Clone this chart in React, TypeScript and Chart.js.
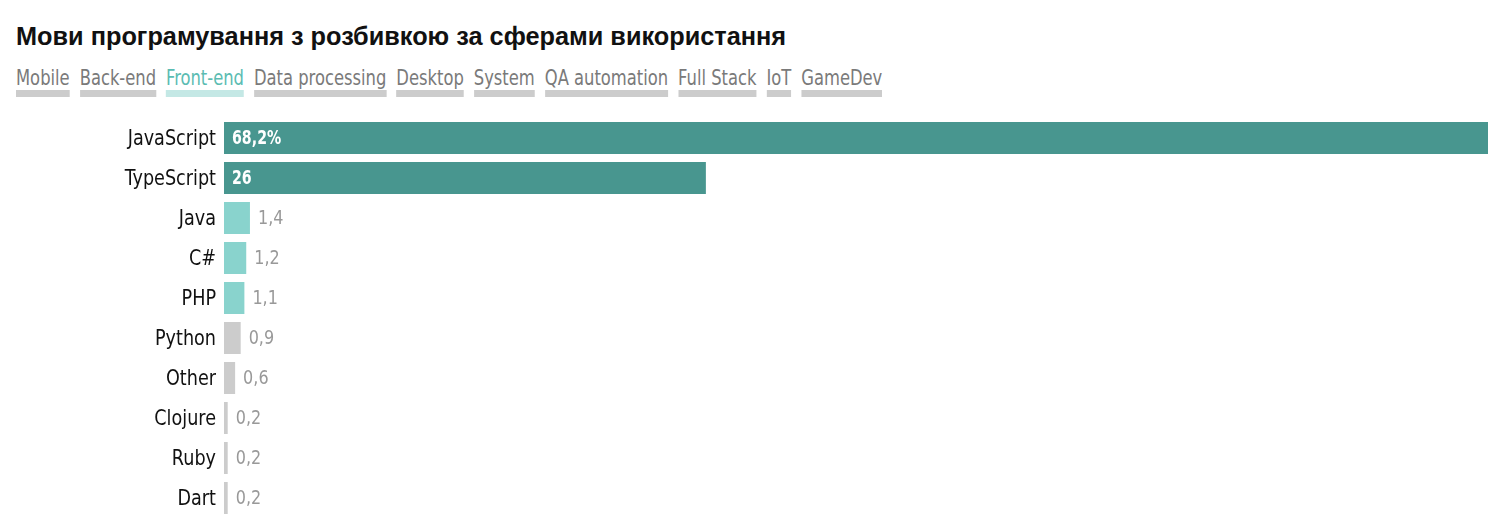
import React, { useEffect, useRef } from "react";
import { Chart, registerables } from "chart.js";

Chart.register(...registerables);

const title = "Мови програмування з розбивкою за сферами використання";
const tabs = ["Mobile", "Back-end", "Front-end", "Data processing", "Desktop", "System", "QA automation", "Full Stack", "IoT", "GameDev"];
const activeTab = "Front-end";

const categories = ["JavaScript", "TypeScript", "Java", "C#", "PHP", "Python", "Other", "Clojure", "Ruby", "Dart"];
const values = [68.2, 26, 1.4, 1.2, 1.1, 0.9, 0.6, 0.2, 0.2, 0.2];
const valueLabels = ["68,2%", "26", "1,4", "1,2", "1,1", "0,9", "0,6", "0,2", "0,2", "0,2"];
const groups = ["main", "main", "mid", "mid", "mid", "low", "low", "low", "low", "low"];

const NARROW = '"DejaVu Sans Condensed", "DejaVu Sans", sans-serif';

const colorFor: Record<string, string> = { main: "#48968f", mid: "#89d3cd", low: "#cccccc" };

function drawText(ctx: any, text: string, x: number, y: number, font: string, color: string, align: "left" | "right", sx: number) {
  ctx.save();
  ctx.font = font;
  ctx.fillStyle = color;
  ctx.textBaseline = "middle";
  ctx.textAlign = align;
  ctx.translate(x, y);
  ctx.scale(sx, 1);
  ctx.fillText(text, 0, 0);
  ctx.restore();
}

const labelPlugin = {
  id: "valueLabels",
  afterDatasetsDraw(chart: any) {
    const ctx = chart.ctx;
    const meta = chart.getDatasetMeta(0);
    const yScale = chart.scales.y;
    meta.data.forEach((bar: any, i: number) => {
      const cy = yScale.getPixelForValue(i);
      drawText(ctx, categories[i], chart.chartArea.left - 8, cy + 1, `22px ${NARROW}`, "#111111", "right", 0.89);
      if (groups[i] === "main") {
        drawText(ctx, valueLabels[i], bar.base + 8, cy + 1, `bold 19px ${NARROW}`, "#ffffff", "left", 0.83);
      } else {
        drawText(ctx, valueLabels[i], bar.x + 8, cy + 1, `20px ${NARROW}`, "#999999", "left", 0.89);
      }
    });
  },
};

export default function App() {
  const canvasRef = useRef<HTMLCanvasElement | null>(null);

  useEffect(() => {
    if (!canvasRef.current) return;
    const chart = new Chart(canvasRef.current, {
      type: "bar",
      data: {
        labels: categories,
        datasets: [
          {
            data: values,
            backgroundColor: groups.map((g) => colorFor[g]),
            barPercentage: 0.8,
            categoryPercentage: 1,
            minBarLength: 3,
          },
        ],
      },
      options: {
        indexAxis: "y",
        animation: false,
        responsive: false,
        maintainAspectRatio: false,
        layout: { padding: 0 },
        plugins: { legend: { display: false }, tooltip: { enabled: false } },
        scales: {
          x: { display: false, min: 0, max: 68.2 },
          y: {
            grid: { display: false },
            border: { display: false },
            ticks: { display: false },
            afterFit(scale: any) {
              scale.width = 216;
              scale.paddingTop = 0;
              scale.paddingBottom = 0;
            },
          },
        },
      },
      plugins: [labelPlugin],
    });
    return () => chart.destroy();
  }, []);

  return (
    <div style={{ position: "relative", width: 1492, height: 510, overflow: "hidden" }}>
      <div
        style={{
          position: "absolute",
          left: 8,
          top: 14,
          fontFamily: '"Liberation Sans", Arial, sans-serif',
          fontWeight: "bold",
          fontSize: 25.3,
          color: "#111111",
          whiteSpace: "nowrap",
        }}
      >
        {title}
      </div>
      <div
        style={{
          position: "absolute",
          left: 8,
          top: 58,
          display: "flex",
          gap: 11.5,
          fontFamily: NARROW,
          fontSize: 21,
          transform: "scaleX(0.866)",
          transformOrigin: "left top",
        }}
      >
        {tabs.map((t) => (
          <span
            key={t}
            style={{
              color: t === activeTab ? "#5bbcb2" : "#7a7a7a",
              borderBottom: `7px solid ${t === activeTab ? "#c4e8e5" : "#cccccc"}`,
              lineHeight: "24px",
              whiteSpace: "nowrap",
            }}
          >
            {t}
          </span>
        ))}
      </div>
      <canvas ref={canvasRef} width={1480} height={400} style={{ position: "absolute", left: 0, top: 110 }} />
    </div>
  );
}
